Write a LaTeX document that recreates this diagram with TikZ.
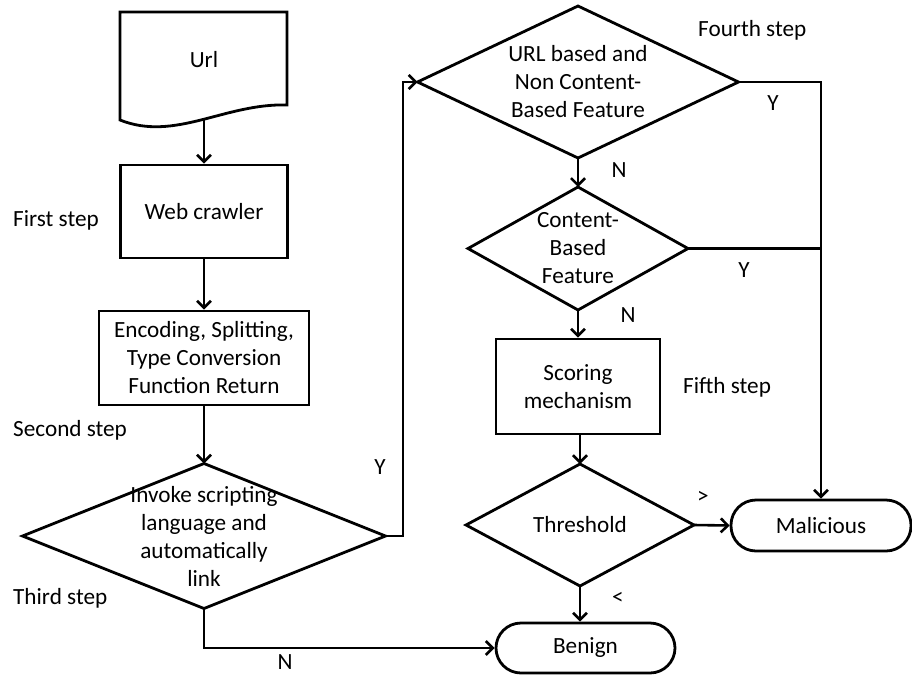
\documentclass[tikz,border=0pt]{standalone}
\usepackage{fontspec}
\setmainfont{Carlito}
\usetikzlibrary{arrows.meta,calc}
\newcommand\mydia[6]{%
  \node[txt] (#1) at (#2,#3) {#6};
  \draw[shp] (#2-#4,#3) coordinate (#1W) -- (#2,#3-#5) coordinate (#1N) -- (#2+#4,#3) coordinate (#1E) -- (#2,#3+#5) coordinate (#1S) -- cycle;}
\begin{document}
\begin{tikzpicture}[x=1pt,y=-1pt,
  shp/.style={line width=2.8pt, line join=miter},
  arr/.style={line width=2.6pt, -{Straight Barb[length=7pt,width=14pt]}},
  txt/.style={align=center, font=\fontsize{23.2}{28}\selectfont, inner sep=0pt},
  lbl/.style={font=\fontsize{23.2}{28}\selectfont, inner sep=0pt},
  boxx/.style={shp, draw, rectangle, inner sep=0pt, align=center, font=\fontsize{23.2}{28}\selectfont},
  term/.style={shp, draw, rectangle, rounded corners=25pt, inner sep=0pt, font=\fontsize{23.2}{28}\selectfont}]
\useasboundingbox (0,0) rectangle (912,675);
% Url document
\node[txt] (url) at (204,60) {Url};
\draw[shp] (120,12) -- (287,12) -- (287,105) .. controls (225,103) and (175,142) .. (120,120) -- cycle;
\coordinate (urlb) at (204,120);
% boxes
\node[boxx, minimum width=167pt, minimum height=93pt] (web) at (204,211.5) {Web crawler};
\node[boxx, minimum width=210pt, minimum height=94pt] (enc) at (204,358) {Encoding, Splitting,\\Type Conversion\\Function Return};
\mydia{inv}{204}{536}{181.5}{72.5}{Invoke scripting\\language and\\automatically\\link}
\mydia{ubf}{578}{82}{160.5}{76}{URL based and\\Non Content-\\Based Feature}
\mydia{cbf}{578}{248.5}{110}{61.5}{Content-\\Based\\Feature}
\node[boxx, minimum width=164pt, minimum height=95pt] (sco) at (578,386.5) {Scoring\\mechanism};
\mydia{thr}{580}{525}{114}{61}{Threshold}
\node[term, minimum width=180pt, minimum height=51pt] (mal) at (821,525.5) {Malicious};
\node[term, minimum width=179pt, minimum height=50pt] (ben) at (585.5,648) {Benign};
% connectors
\draw[arr] (urlb) -- (web.north);
\draw[arr] (web.south) -- (enc.north);
\draw[arr] (enc.south) -- (invN);
\draw[arr] (invE) -- ++(17.5,0) |- (ubfW);
\draw[arr] (ubfE) -| (mal.north);
\draw[shp] (cbfE) -- (cbfE -| mal.north);
\draw[arr] (ubfS) -- (cbfN);
\draw[arr] (cbfS) -- (cbfS |- sco.north);
\draw[arr] (sco.south -| thrN) -- (thrN);
\draw[arr] (thrE) -- (mal.west);
\draw[arr] (thrS) -- (thrS |- ben.north);
\draw[arr] (invS) |- (ben.west);
% labels
\node[lbl, anchor=west] (l1) at (13,220) {First step};
\node[lbl, anchor=west] (l2) at (13,430) {Second step};
\node[lbl, anchor=west] (l3) at (13,598) {Third step};
\node[lbl, anchor=west] (l4) at (698,30) {Fourth step};
\node[lbl, anchor=west] (l5) at (683,387) {Fifth step};
\node[lbl] (y1) at (380,467) {Y};
\node[lbl] (y2) at (773,103) {Y};
\node[lbl] (n1) at (619,170) {N};
\node[lbl] (y3) at (744,270) {Y};
\node[lbl] (n2) at (628,315) {N};
\node[lbl] (gt) at (703,497) {>};
\node[lbl] (lt) at (618,598) {<};
\node[lbl] (n3) at (285,662) {N};
\end{tikzpicture}
\end{document}
